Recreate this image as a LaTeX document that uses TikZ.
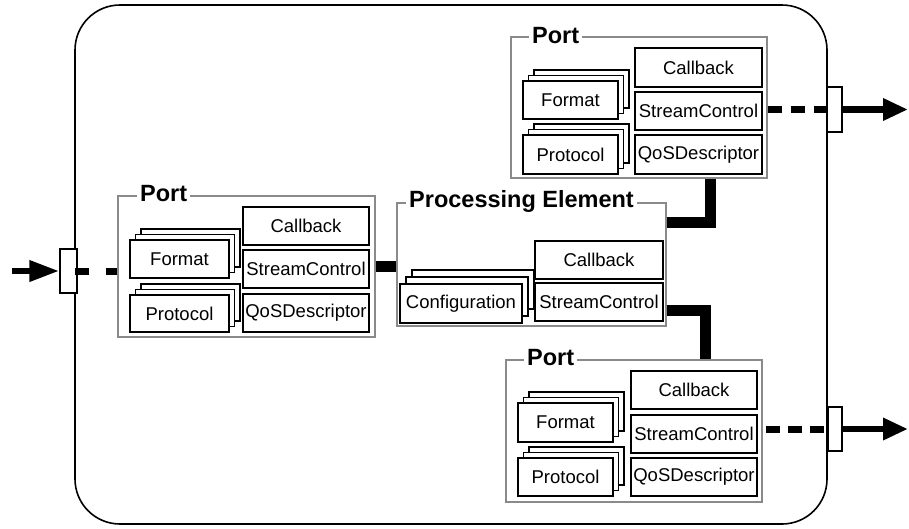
\documentclass[tikz,border=0pt]{standalone}
\usepackage{fontspec}
\setmainfont{Liberation Sans}
\usetikzlibrary{fit,arrows.meta}

\definecolor{framegray}{HTML}{8A8A8A}

\tikzset{
  lbl/.style={font=\fontsize{18.5}{20}\selectfont, inner sep=0pt},
  card/.style={draw=black, fill=white, line width=1.3pt, inner sep=0pt},
  sheet/.style={draw=black, fill=white, line width=1.3pt},
  group/.style={draw=framegray, line width=1.6pt, inner sep=0pt},
  grouptitle/.style={fill=white, inner xsep=3pt, inner ysep=1pt, anchor=base west,
    font=\bfseries\fontsize{23.5}{25}\selectfont},
  system/.style={draw=black, line width=1.6pt, inner sep=0pt, rounded corners=45pt},
  link/.style={line width=11pt},
  feed/.style={line width=7pt},
  stub/.style={draw=black, fill=white, line width=1.3pt, inner sep=0pt},
  inarrow/.style={line width=6.5pt, -{Triangle[length=30pt,width=20pt]}},
  outarrow/.style={line width=6.5pt, -{Triangle[length=25pt,width=21pt]}},
}

% one labelled card: #1 name, #2-#5 corners, #6 label
\newcommand\card[6]{%
  \node[card, fit={(#2,#3) (#4,#5)}, label={[lbl]center:#6}] (#1) {};
}

% a stack of cards: two sheets behind, the labelled card in front
% #1 name, #2-#5 corners of the front card, #6/#7 sheet offset, #8 label
\newcommand\cardstack[8]{%
  \foreach \k in {2,1}{%
    \draw[sheet] ({#2+\k*#6},{#3-\k*#7}) rectangle ({#4+\k*#6},{#5-\k*#7});
  }%
  \card{#1}{#2}{#3}{#4}{#5}{#8}
}

\begin{document}
\begin{tikzpicture}[x=1pt, y=-1pt]
\useasboundingbox (0,0) rectangle (909,528);

% enclosing component
\node[system, fit={(75,5) (827,524)}] (sys) {};

% group frames
\node[group, fit={(118,196) (375,337)}] (portA) {};
\node[group, fit={(511,37) (767,178)}] (portB) {};
\node[group, fit={(506,360) (762,502)}] (portC) {};
\node[group, fit={(397,203) (666,326)}] (pe) {};

% thick links between the processing element and its ports
\draw[link] (portA.east) -- (pe.west |- portA.east);
\draw[link] (pe.east |- 0,222.5) -| (portB.south -| 710,0);
\draw[link] (pe.east |- 0,310.5) -| (portC.north -| 705,0);

% group titles
\node[grouptitle] (portAtitle) at (137,201.5) {Port};
\node[grouptitle] (portBtitle) at (529,43.3) {Port};
\node[grouptitle] (portCtitle) at (524,365.7) {Port};
\node[grouptitle] (petitle) at (406,207.5) {Processing Element};

% input port
\card{aCb}{243}{207}{369}{245}{Callback}
\card{aSc}{243}{250}{369}{288}{StreamControl}
\card{aQos}{243}{294}{369}{332}{QoSDescriptor}
\cardstack{aFmt}{130}{240}{229}{278}{5.5}{5.5}{Format}
\cardstack{aProto}{130}{295}{229}{332}{5.5}{5.5}{Protocol}

% upper output port
\card{bCb}{635}{48}{762}{87}{Callback}
\card{bSc}{635}{92}{762}{130}{StreamControl}
\card{bQos}{635}{135}{762}{174}{QoSDescriptor}
\cardstack{bFmt}{523}{81}{618}{119}{5.5}{5.5}{Format}
\cardstack{bProto}{523}{135}{618}{174}{5.5}{5.5}{Protocol}

% lower output port
\card{cCb}{631}{371}{757}{409}{Callback}
\card{cSc}{631}{415}{757}{453}{StreamControl}
\card{cQos}{631}{458}{757}{496}{QoSDescriptor}
\cardstack{cFmt}{518}{403}{613}{442}{5.5}{5.5}{Format}
\cardstack{cProto}{518}{458}{613}{496}{5.5}{5.5}{Protocol}

% processing element
\card{peCb}{535}{241}{663}{279}{Callback}
\card{peSc}{535}{283}{663}{321}{StreamControl}
\cardstack{peConf}{400}{284}{522}{323}{6}{7}{Configuration}

% boundary stubs on the component edge
\node[stub, fit={(60,249) (77,293)}] (stubIn) {};
\node[stub, fit={(827,87) (842,132)}] (stubB) {};
\node[stub, fit={(828,407) (842,451)}] (stubC) {};

\coordinate (src) at (12,271);
\coordinate (sinkB) at (908,109.5);
\coordinate (sinkC) at (908,429);

% incoming stream
\draw[inarrow] (src) -- (stubIn.west);
\draw[feed, dash pattern=on 14pt off 17pt on 20pt off 0pt]
  ([xshift=-3pt]stubIn.east) -- (portA.west |- stubIn.east);

% outgoing streams
\draw[feed, dash pattern=on 14pt off 9pt] (portB.east |- stubB.west) -- (stubB.west);
\draw[outarrow] (stubB.east) -- (sinkB);
\draw[feed, dash pattern=on 14pt off 8pt, dash phase=19pt] (portC.east |- stubC.west) -- (stubC.west);
\draw[outarrow] (stubC.east) -- (sinkC);
\end{tikzpicture}
\end{document}
